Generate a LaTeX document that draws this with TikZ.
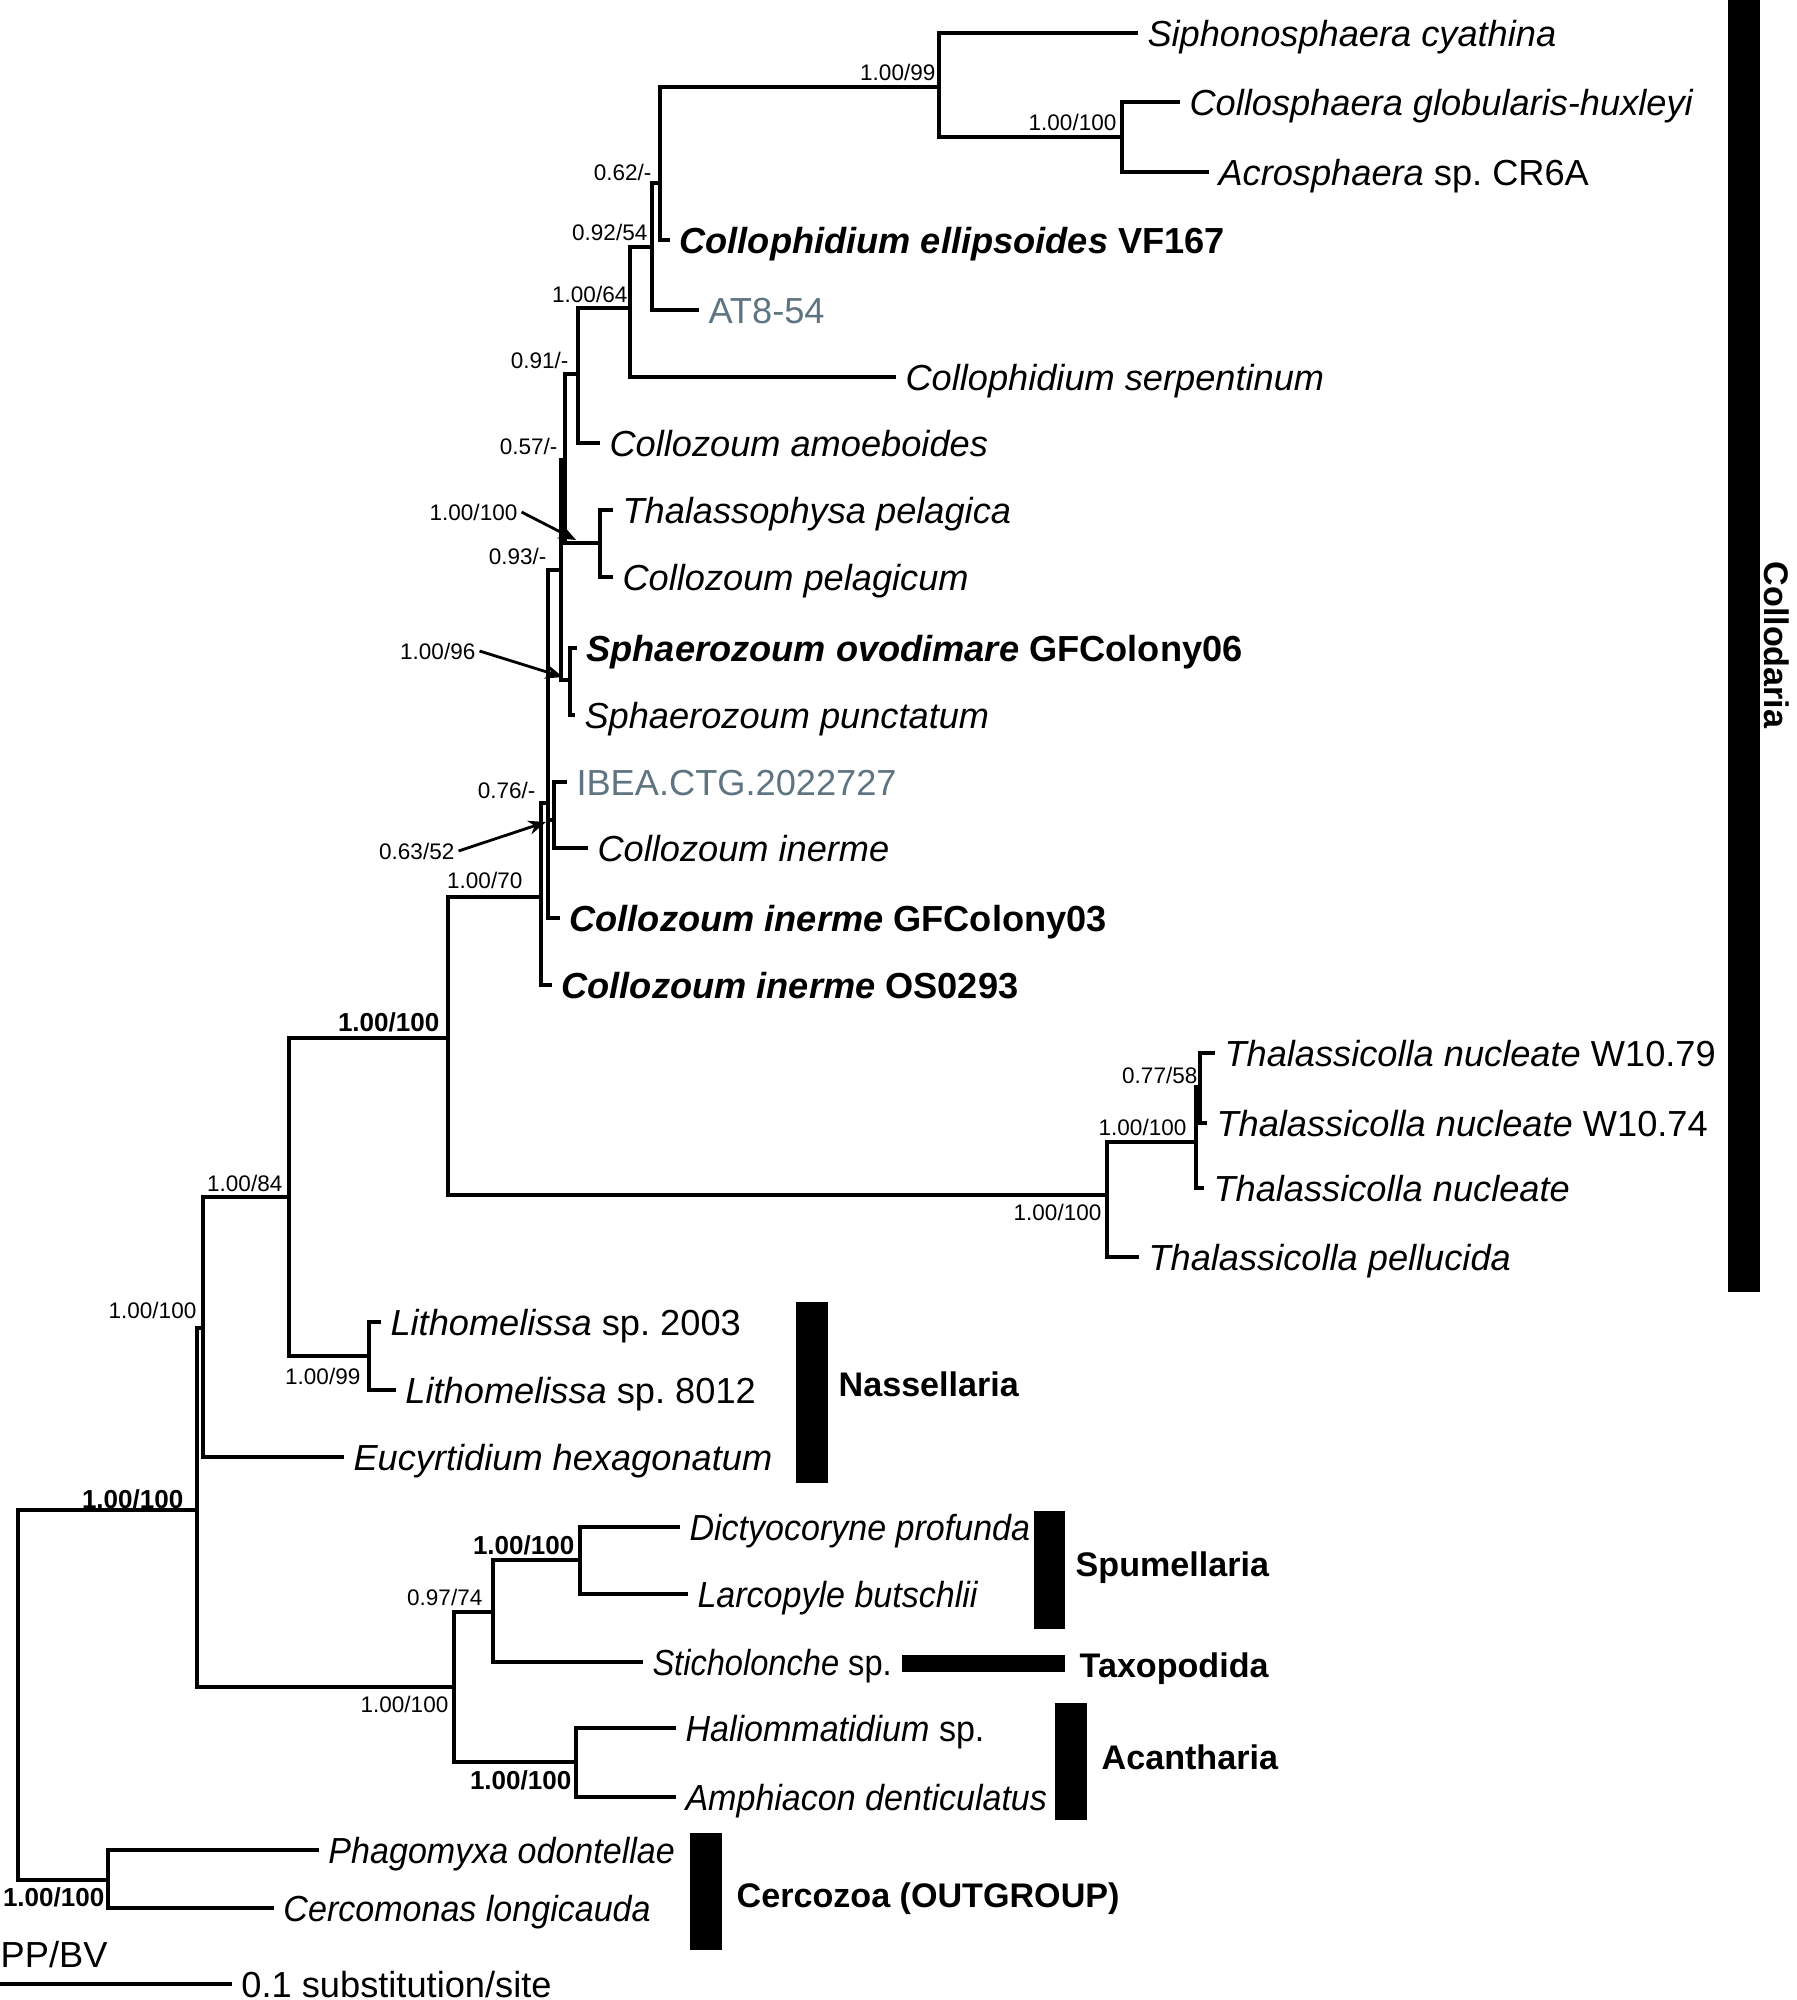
\documentclass[tikz,border=0pt]{standalone}
\usepackage{fontspec}
\setmainfont{Liberation Sans}
\newfontfamily\narrowsans{Liberation Sans}[FakeStretch=0.94]
\newfontfamily\narrowersans{Liberation Sans}[FakeStretch=0.9]
\usetikzlibrary{arrows.meta}
\definecolor{envgray}{HTML}{5E7480}

\begin{document}
\frenchspacing
\begin{tikzpicture}[x=0.01cm,y=-0.01cm,
  branch/.style={line width=1pt},
  leaf/.style={anchor=west,inner xsep=2.5pt,inner ysep=0pt,font=\fontsize{10.3}{12}\selectfont,text height=7.4pt,text depth=0pt},
  supp/.style={anchor=east,inner sep=0pt,font=\fontsize{6.4}{7}\selectfont,text height=4.6pt,text depth=0pt},
  bsupp/.style={supp,font=\fontsize{7.4}{8}\selectfont\bfseries,text height=5.3pt},
  group/.style={anchor=west,inner sep=0pt,font=\fontsize{9.7}{11}\selectfont\bfseries,text height=7pt,text depth=0pt},
  pointer/.style={line width=0.8pt,-{Stealth[length=5pt,width=4pt]}}]
\useasboundingbox (0,0) rectangle (1797,2000);
\foreach \n/\x/\y in {nsipho/939/87,ncollo/1122/137,n062/660/183,n092/652/247,n064/630/308,n091/578/374,n057/565/460,nthal/600/543,n093/561/570,nsph/570/680,n076/548/803,nibea/554/820,n070/541/897,ncoll/448/1038,nthcl/1107/1195,nnuc/1196/1142,nw7/1200/1087,n084/289/1197,nlith/369/1356,nnass/203/1328,ning/197/1510,nrad/454/1687,n097/493/1612,nspum/580/1560,nacan/576/1762,nroot/18/1695,ncerc/108/1880}{\coordinate (\n) at (\x,\y);}
\foreach \n/\x/\y/\t in {sipho/1138/33/{\textit{Siphonosphaera cyathina}},collo/1180/102/{\textit{Collosphaera globularis-huxleyi}},acro/1209/172/{\textit{Acrosphaera} sp. CR6A},cellip/670/240/{\textbf{\textit{Collophidium ellipsoides} VF167}},at854/699/310/{\textcolor{envgray}{AT8-54}},cserp/896/377/{\textit{Collophidium serpentinum}},camoe/600/443/{\textit{Collozoum amoeboides}},tpel/613/510/{\textit{Thalassophysa pelagica}},cpel/613/577/{\textit{Collozoum pelagicum}},sovo/577/648/{\textbf{\textit{Sphaerozoum ovodimare} GFColony06}},spun/575/715/{\textit{Sphaerozoum punctatum}},ibea/567/782/{\textcolor{envgray}{IBEA.CTG.2022727}},cin/588/848/{\textit{Collozoum inerme}},cgf/560/918/{\textbf{\textit{Collozoum inerme} GFColony03}},cos/552/985/{\textbf{\textit{Collozoum inerme} OS0293}},w79/1215/1053/{\textit{Thalassicolla nucleate} W10.79},w74/1207/1123/{\textit{Thalassicolla nucleate} W10.74},tnuc/1204/1188/{\textit{Thalassicolla nucleate}},tpell/1139/1257/{\textit{Thalassicolla pellucida}},l2003/381/1322/{\textit{Lithomelissa} sp. 2003},l8012/396/1390/{\textit{Lithomelissa} sp. 8012},eucy/344/1457/{\textit{Eucyrtidium hexagonatum}},dict/680/1527/{\narrowsans\textit{Dictyocoryne profunda}},larc/688/1594/{\narrowsans\textit{Larcopyle butschlii}},stich/643/1662/{\narrowersans\textit{Sticholonche} sp.},hali/676/1728/{\narrowsans\textit{Haliommatidium} sp.},amph/676/1797/{\narrowsans\textit{Amphiacon denticulatus}},phag/319/1850/{\narrowsans\textit{Phagomyxa odontellae}},cerc/274/1908/{\narrowsans\textit{Cercomonas longicauda}}}{\node[leaf] (\n) at (\x,\y) {\t};}
\foreach \p/\c in {nsipho/sipho.west,nsipho/ncollo,ncollo/collo.west,ncollo/acro.west,n062/nsipho,n062/cellip.west,n092/n062,n092/at854.west,n064/n092,n064/cserp.west,n091/n064,n091/camoe.west,n057/n091,n057/nthal,nthal/tpel.west,nthal/cpel.west,n093/n057,n093/nsph,nsph/sovo.west,nsph/spun.west,n076/n093,n076/nibea,n076/cgf.west,nibea/ibea.west,nibea/cin.west,n070/n076,n070/cos.west,ncoll/n070,ncoll/nthcl,nthcl/nnuc,nthcl/tpell.west,nnuc/nw7,nnuc/tnuc.west,nw7/w79.west,nw7/w74.west,n084/ncoll,n084/nlith,nlith/l2003.west,nlith/l8012.west,nnass/n084,nnass/eucy.west,ning/nnass,ning/nrad,nrad/n097,nrad/nacan,n097/nspum,n097/stich.west,nspum/dict.west,nspum/larc.west,nacan/hali.west,nacan/amph.west,nroot/ning,nroot/ncerc,ncerc/phag.west,ncerc/cerc.west}{\draw[branch] (\p) |- (\c);}
\foreach \x/\y/\t [count=\i] in {936/72/{1.00/99},1117/122/{1.00/100},652/172/{0.62/-},648/232/{0.92/54},628/294/{1.00/64},569/360/{0.91/-},558/446/{0.57/-},518/512/{1.00/100},547/556/{0.93/-},476/651/{1.00/96},536/790/{0.76/-},455/851/{0.63/52},523/880/{1.00/70},1198/1075/{0.77/58},1187/1127/{1.00/100},1102/1212/{1.00/100},283/1183/{1.00/84},197/1310/{1.00/100},361/1376/{1.00/99},483/1597/{0.97/74},449/1704/{1.00/100}}{\node[supp] (sv\i) at (\x,\y) {\t};}
\foreach \x/\y [count=\i] in {440/1022,184/1499,575/1545,572/1780,105/1897}{\node[bsupp] (bv\i) at (\x,\y) {1.00/100};}
\coordinate (pthal) at (576,540);
\coordinate (psph) at (563,677);
\coordinate (pibea) at (546,822);
\draw[pointer] ([xshift=1pt]sv8.east) -- (pthal);
\draw[pointer] ([xshift=1pt]sv10.east) -- (psph);
\draw[pointer] ([xshift=1pt]sv12.east) -- (pibea);
\foreach \a/\b/\c/\d in {1728/0/1760/1292,796/1302/828/1483,1034/1511/1065/1629,902/1655/1065/1672,1055/1703/1087/1820,690/1833/722/1950}{\fill (\a,\b) rectangle (\c,\d);}
\foreach \n/\x/\y/\t in {gnass/838/1384/Nassellaria,gspum/1075/1564/Spumellaria,gtaxo/1079/1665/Taxopodida,gacan/1101/1757/Acantharia,gcerc/736/1895/Cercozoa (OUTGROUP)}{\node[group] (\n) at (\x,\y) {\t};}
\node[group,anchor=center,rotate=-90] (gcoll) at (1777,645) {Collodaria};
\node[anchor=west,inner sep=0pt,font=\fontsize{10.3}{12}\selectfont] (ppbv) at (0,1955) {PP/BV};
\coordinate (sbar) at (0,1984);
\node[leaf] (scale) at (232,1984) {0.1 substitution/site};
\draw[branch] (sbar) -- (scale.west);
\end{tikzpicture}
\end{document}
